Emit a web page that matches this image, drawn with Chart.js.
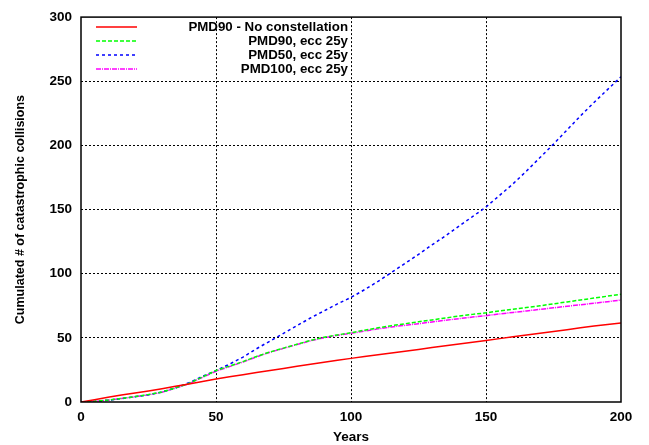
<!DOCTYPE html>
<html>
<head>
<meta charset="utf-8">
<script src="https://cdn.jsdelivr.net/npm/chart.js@4.4.1/dist/chart.umd.min.js"></script>
<style>
  html, body { margin: 0; padding: 0; background: #ffffff; }
  #wrap { width: 649px; height: 445px; }
</style>
</head>
<body>
<div id="wrap"><canvas id="c" width="649" height="445"></canvas></div>
<script>
const years = [0,5,10,15,20,25,30,35,40,45,50,55,60,65,70,75,80,85,90,95,100,105,110,115,120,125,130,135,140,145,150,155,160,165,170,175,180,185,190,195,200];

const pmd90NoConst = [0,1.8,3.7,5.4,7,8.6,10.3,12.2,14.1,16,18,19.7,21.3,23,24.6,26.2,27.8,29.4,31,32.5,34,35.4,36.8,38.2,39.6,41,42.4,43.8,45.2,46.6,48,49.4,50.8,52.2,53.6,55,56.4,57.8,59.2,60.4,61.5];
const pmd90Ecc = [0,0.5,1.5,2.8,4.2,5.8,7.8,11,14.5,19.5,24.5,28,31.5,35.5,39,42,45,48,50.5,52.3,54,56,57.8,59.5,61,62.5,64,65.5,67,68.3,69.5,71,72.3,73.7,75,76.5,78,79.5,81,82.5,84];
const pmd50Ecc = [0,0.4,1.3,2.6,4.1,5.6,7.8,11,15,20,24.5,29.5,35,41.5,47.5,53.5,59.5,65.5,71,76.5,81.5,87.5,94,101,108,115,122.5,129.5,137,144.5,152,161,170,180,190.5,201,212,223,233.5,243.5,253.5];
const pmd100Ecc = [0,0.5,1.4,2.7,4.1,5.6,7.6,10.8,14.3,19.2,24,27.6,31.2,35.2,38.8,41.8,44.8,47.7,50.1,52,53.5,55.3,57,58.5,59.8,61,62.4,63.7,65,66.2,67.3,68.6,69.8,71,72.2,73.4,74.6,75.8,77,78.2,79.5];

const seriesLabels = ["PMD90 - No constellation","PMD90, ecc 25y","PMD50, ecc 25y","PMD100, ecc 25y"];
const xTicks = [0,50,100,150,200];
const yTicks = [0,50,100,150,200,250,300];

const FONT = "'Liberation Sans', Arial, sans-serif";

function pts(vals){ return years.map((y,i)=>({x:y, y:vals[i]})); }

const styles = [
  {color:'#ff0000', dash:[]},
  {color:'#00ff00', dash:[4,2]},
  {color:'#0000ff', dash:[3,3]},
  {color:'#ff00ff', dash:[5,1,1,1]}
];
const allVals = [pmd90NoConst, pmd90Ecc, pmd50Ecc, pmd100Ecc];

const datasets = allVals.map((v,i)=>({
  label: seriesLabels[i],
  data: pts(v),
  borderColor: styles[i].color,
  borderDash: styles[i].dash,
  borderWidth: 1.5,
  pointRadius: 0,
  tension: 0,
  fill: false
}));

const legendPlugin = {
  id: 'gpLegend',
  afterDraw(chart){
    const ctx = chart.ctx;
    ctx.save();
    const rowY = [27,41,55,69];
    chart.data.datasets.forEach((ds,i)=>{
      const y = rowY[i];
      ctx.strokeStyle = ds.borderColor;
      ctx.lineWidth = 1.5;
      ctx.setLineDash(ds.borderDash);
      ctx.beginPath();
      ctx.moveTo(96, y);
      ctx.lineTo(137, y);
      ctx.stroke();
      ctx.setLineDash([]);
      ctx.fillStyle = '#000';
      ctx.font = "bold 13.3px " + FONT;
      ctx.textAlign = 'right';
      ctx.textBaseline = 'middle';
      ctx.fillText(ds.label, 348, y);
    });
    const a = chart.chartArea;
    ctx.strokeStyle = '#000';
    ctx.lineWidth = 1.5;
    ctx.strokeRect(a.left, a.top, a.right - a.left, a.bottom - a.top);
    ctx.restore();
  }
};

new Chart(document.getElementById('c'), {
  type: 'line',
  data: { datasets },
  options: {
    responsive: false,
    animation: false,
    layout: { padding: { left: 0, top: 15, right: 28, bottom: 0 } },
    plugins: { legend: { display: false }, tooltip: { enabled: false } },
    scales: {
      x: {
        type: 'linear',
        min: 0, max: 200,
        afterBuildTicks(s){ s.ticks = xTicks.map(v=>({value:v})); },
        afterFit(s){ s.height = 43; },
        grid: {
          color: (c)=> (c.tick && (c.tick.value===0 || c.tick.value===200)) ? 'rgba(0,0,0,0)' : '#000',
          lineWidth: 1,
          drawTicks: false
        },
        border: { display: false, dash: [2,2] },
        ticks: { color: '#000', font: { family: FONT, size: 13.5, weight: 'bold' }, padding: 7, maxRotation: 0 },
        title: { display: true, text: 'Years', color: '#000', font: { family: FONT, size: 13.5, weight: 'bold' }, padding: { top: 4, bottom: 0 } }
      },
      y: {
        type: 'linear',
        min: 0, max: 300,
        afterBuildTicks(s){ s.ticks = yTicks.map(v=>({value:v})); },
        afterFit(s){ s.width = 81; },
        grid: {
          color: (c)=> (c.tick && (c.tick.value===0 || c.tick.value===300)) ? 'rgba(0,0,0,0)' : '#000',
          lineWidth: 1,
          drawTicks: false
        },
        border: { display: false, dash: [2,2] },
        ticks: { color: '#000', font: { family: FONT, size: 13.5, weight: 'bold' }, padding: 9 },
        title: { display: true, text: 'Cumulated # of catastrophic collisions', color: '#000', font: { family: FONT, size: 12.5, weight: 'bold' }, padding: { top: 13, bottom: 0 } }
      }
    }
  },
  plugins: [legendPlugin]
});
</script>
</body>
</html>
